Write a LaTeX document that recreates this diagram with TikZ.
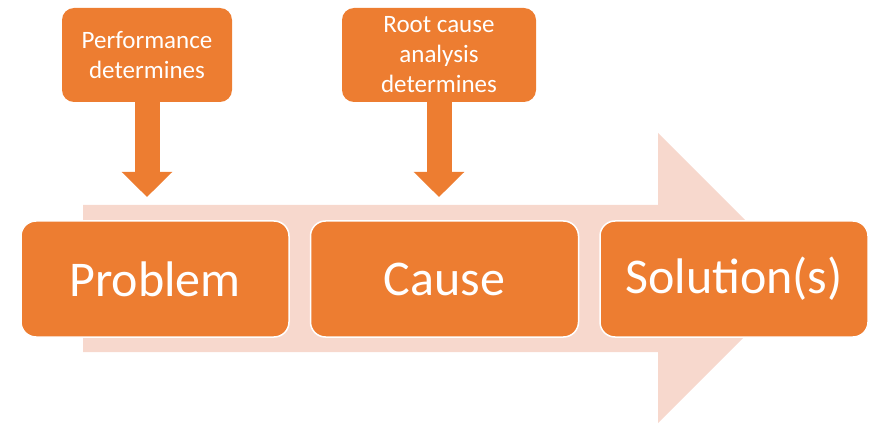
\documentclass[tikz,border=0pt]{standalone}
\usepackage{fontspec}
\setmainfont{Carlito}
\usetikzlibrary{arrows.meta,positioning}

\definecolor{stageorange}{HTML}{ED7D31}
\definecolor{flowpink}{RGB}{247,216,205}

\tikzset{
  stage/.style={draw=white, line width=1.5pt, fill=stageorange, rounded corners=15pt,
    minimum width=268pt, minimum height=116pt, text=white,
    font=\fontsize{50}{60}\selectfont},
  note/.style={fill=stageorange, rounded corners=12pt, minimum height=94pt,
    text=white, align=center, font=\fontsize{25}{30}\selectfont},
  pointer/.style={stageorange, line width=25pt, -{Triangle[width=49pt,length=25pt]}}
}

\begin{document}
\begin{tikzpicture}[x=1pt,y=-1pt]
\useasboundingbox (0,0) rectangle (871,425);
% background flow arrow
\fill[flowpink] (83,205) -- (658,205) -- (658,133) -- (803,278) -- (658,423)
  -- (658,352) -- (83,352) -- cycle;
% the three stages
\node[stage] (problem) at (155,279) {Problem};
\node[stage, right=20pt of problem] (cause) {Cause};
\node[stage, right=20pt of cause] (solution) {Solution(s)};
% what determines them
\node[note, minimum width=170pt] (perf) at (147,55) {Performance\\determines};
\node[note, minimum width=194pt] (rca) at (439,55) {Root cause\\analysis\\determines};
\coordinate (perf tip) at (perf.south |- 0,197);
\coordinate (rca tip) at (rca.south |- 0,197);
\draw[pointer] (perf.south) -- (perf tip);
\draw[pointer] (rca.south) -- (rca tip);
\end{tikzpicture}
\end{document}
